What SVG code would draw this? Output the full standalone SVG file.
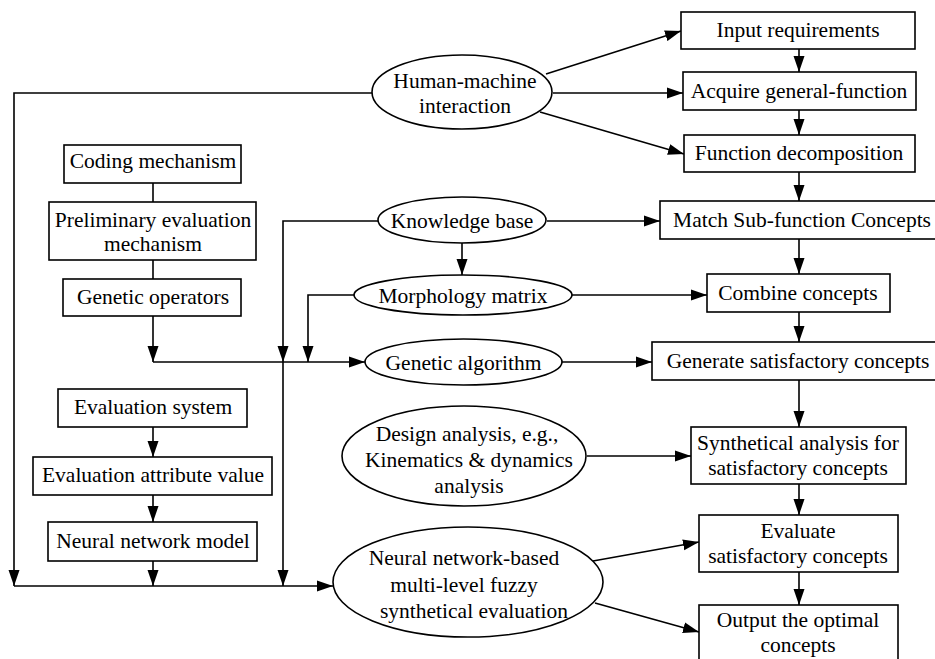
<svg xmlns="http://www.w3.org/2000/svg" width="935" height="659" viewBox="0 0 935 659">
<defs>
<style>
.n{fill:#fff;stroke:#000;stroke-width:1.6}
.t{font-family:"Liberation Serif","Times New Roman",serif;font-size:21.5px;text-anchor:middle;fill:#000}
.e{fill:none;stroke:#000;stroke-width:1.6}
.a{marker-end:url(#ah)}
</style>
<marker id="ah" markerUnits="userSpaceOnUse" markerWidth="17" markerHeight="12" refX="16" refY="6" orient="auto">
<path d="M0,0.5 L16,6 L0,11.5 z" fill="#000"/>
</marker>
</defs>
<rect width="935" height="659" fill="#fff"/>
<g id="connectors">
<path class="e a" d="M372,93 H14 V586"/>
<path class="e a" d="M546,74 L681,31"/>
<path class="e a" d="M553,93 L683,93"/>
<path class="e a" d="M540,112 L684,154"/>
<path class="e a" d="M378,221 H283 V362"/>
<path class="e a" d="M283,362 V586"/>
<path class="e a" d="M354,295 H308 V362"/>
<path class="e a" d="M153,316 V362"/>
<path class="e a" d="M153,362 H365"/>
<path class="e a" d="M547,221 H660"/>
<path class="e a" d="M462,243 V275"/>
<path class="e a" d="M572,295 H707"/>
<path class="e a" d="M562,362 H652"/>
<path class="e a" d="M587,456 H691"/>
<path class="e a" d="M14,586 H333"/>
<path class="e a" d="M153,561 V586"/>
<path class="e a" d="M153,427 V457"/>
<path class="e a" d="M153,495 V522"/>
<path class="e" d="M153,183 V202"/>
<path class="e" d="M153,260 V279"/>
<path class="e a" d="M593,561 L699,542"/>
<path class="e a" d="M595,603 L699,632"/>
<path class="e a" d="M799,49 V72"/>
<path class="e a" d="M799,110 V135"/>
<path class="e a" d="M799,172 V201"/>
<path class="e a" d="M799,239 V274"/>
<path class="e a" d="M799,312 V342"/>
<path class="e a" d="M799,380 V427"/>
<path class="e a" d="M799,484 V515"/>
<path class="e a" d="M799,572 V605"/>
</g>
<g id="hmi"><ellipse class="n" cx="462" cy="92" rx="90" ry="37"/><text class="t" x="465" y="88">Human-machine</text><text class="t" x="465" y="113">interaction</text></g>
<g id="input"><rect class="n" x="681" y="12" width="234" height="37"/><text class="t" x="798" y="37">Input requirements</text></g>
<g id="acquire"><rect class="n" x="683" y="72" width="233" height="38"/><text class="t" x="799" y="98">Acquire general-function</text></g>
<g id="funcdec"><rect class="n" x="684" y="135" width="231" height="37"/><text class="t" x="799" y="160">Function decomposition</text></g>
<g id="match"><rect class="n" x="660" y="201" width="280" height="38"/><text class="t" x="802" y="227">Match Sub-function Concepts</text></g>
<g id="combine"><rect class="n" x="707" y="274" width="183" height="38"/><text class="t" x="798" y="300">Combine concepts</text></g>
<g id="generate"><rect class="n" x="652" y="342" width="290" height="38"/><text class="t" x="798" y="368">Generate satisfactory concepts</text></g>
<g id="synth"><rect class="n" x="691" y="427" width="215" height="57"/><text class="t" x="798" y="450">Synthetical analysis for</text><text class="t" x="798" y="475">satisfactory concepts</text></g>
<g id="evaluate"><rect class="n" x="699" y="515" width="199" height="57"/><text class="t" x="798" y="538">Evaluate</text><text class="t" x="798" y="563">satisfactory concepts</text></g>
<g id="output"><rect class="n" x="699" y="605" width="199" height="60"/><text class="t" x="798" y="627">Output the optimal</text><text class="t" x="798" y="652">concepts</text></g>
<g id="coding"><rect class="n" x="64" y="145" width="177" height="38"/><text class="t" x="153" y="168">Coding mechanism</text></g>
<g id="prelim"><rect class="n" x="49" y="202" width="207" height="58"/><text class="t" x="153" y="227">Preliminary evaluation</text><text class="t" x="153" y="251">mechanism</text></g>
<g id="genop"><rect class="n" x="63" y="279" width="178" height="37"/><text class="t" x="153" y="304">Genetic operators</text></g>
<g id="kb"><ellipse class="n" cx="462" cy="220" rx="84" ry="23"/><text class="t" x="462" y="228">Knowledge base</text></g>
<g id="mm"><ellipse class="n" cx="463" cy="295" rx="109" ry="20"/><text class="t" x="463" y="303">Morphology matrix</text></g>
<g id="ga"><ellipse class="n" cx="463.5" cy="362" rx="98.5" ry="23"/><text class="t" x="463.5" y="370">Genetic algorithm</text></g>
<g id="design"><ellipse class="n" cx="464" cy="456" rx="122" ry="50"/><text class="t" x="467" y="441">Design analysis, e.g.,</text><text class="t" x="469" y="467">Kinematics &amp; dynamics</text><text class="t" x="469" y="493">analysis</text></g>
<g id="nnfuzzy"><ellipse class="n" cx="468" cy="582" rx="135" ry="55"/><text class="t" x="464" y="565">Neural network-based</text><text class="t" x="464" y="592">multi-level fuzzy</text><text class="t" x="474" y="618">synthetical evaluation</text></g>
<g id="evalsys"><rect class="n" x="58" y="389" width="189" height="38"/><text class="t" x="153" y="414">Evaluation system</text></g>
<g id="evalattr"><rect class="n" x="33" y="457" width="239" height="38"/><text class="t" x="153" y="482">Evaluation attribute value</text></g>
<g id="nnmodel"><rect class="n" x="48" y="522" width="209" height="39"/><text class="t" x="153" y="548">Neural network model</text></g>
</svg>
